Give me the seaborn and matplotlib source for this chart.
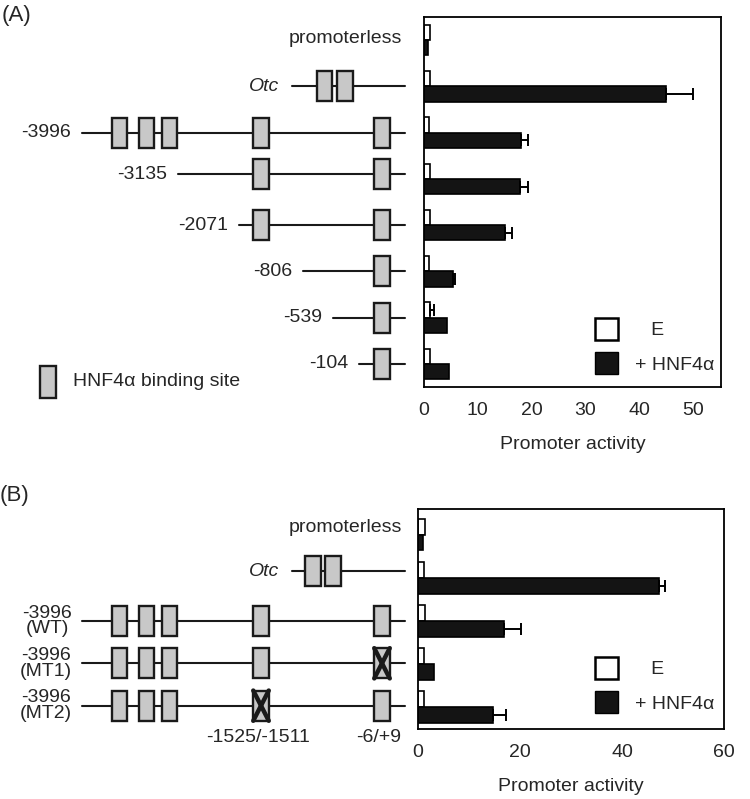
import numpy as np
import pandas as pd
import matplotlib
matplotlib.use("Agg")
import matplotlib.pyplot as plt
from matplotlib.patches import Rectangle, Patch
import seaborn as sns

# ---------------- data ----------------
constructs_A = ["promoterless", "Otc", "-3996", "-3135", "-2071", "-806", "-539", "-104"]
e_A = [1.2, 1.1, 1.0, 1.1, 1.1, 1.0, 1.1, 1.1]
e_err_A = [0, 0, 0, 0, 0, 0, 0.7, 0]
hnf_A = [0.8, 45.0, 18.1, 17.8, 15.0, 5.4, 4.2, 4.6]
hnf_err_A = [0, 5.0, 1.2, 1.5, 1.4, 0.3, 0, 0]

constructs_B = ["promoterless", "Otc", "-3996\n(WT)", "-3996\n(MT1)", "-3996\n(MT2)"]
e_B = [1.3, 1.2, 1.4, 1.2, 1.2]
e_err_B = [0, 0, 0, 0, 0]
hnf_B = [1.0, 47.2, 16.9, 3.2, 14.7]
hnf_err_B = [0, 1.3, 3.3, 0, 2.5]

conditions = ["E", "+ HNF4α"]
ticks_A = [0, 10, 20, 30, 40, 50]
ticks_B = [0, 20, 40, 60]

# schematic (not-to-scale positions along the construct)
line_end = 405
site_pos = [119.5, 146.5, 169.5, 261, 382]
otc_sites_A = [324.5, 345]
otc_sites_B = [313, 333]
otc_start = 292
starts_A = [82, 178, 239, 303, 333, 359]
row_shift_A = [0, -0.1, 0, 0, 0, 0]
mutated_B = [None, 382, 261]   # WT, MT1, MT2
mut_labels = ["-1525/-1511", "-6/+9"]

# ---------------- style ----------------
sns.set_theme(style="white")
plt.rcParams["font.family"] = ["Liberation Sans", "DejaVu Sans"]
FS = 14
palette = {"E": "white", "+ HNF4α": "#141414"}
DARK = "#1a1a1a"

fig = plt.figure(figsize=(7.5, 7.99), dpi=100)
W, H = 750, 799

def fig_rect(x0, y0, x1, y1):
    return [x0 / W, 1 - y1 / H, (x1 - x0) / W, (y1 - y0) / H]


def bar_panel(rect, constructs, e, e_err, hnf, hnf_err, xmax, ticks, ylim, width, leg_anchor):
    ax = fig.add_axes(rect)
    df = pd.DataFrame({
        "construct": list(constructs) * 2,
        "condition": [conditions[0]] * len(constructs) + [conditions[1]] * len(constructs),
        "activity": list(e) + list(hnf),
    })
    sns.barplot(data=df, y="construct", x="activity", hue="condition", orient="h",
                order=constructs, hue_order=conditions, palette=palette,
                edgecolor="black", linewidth=1.2, width=width, errorbar=None,
                legend=False, ax=ax)
    for cont, errs in zip(ax.containers, [e_err, hnf_err]):
        xs, ys, es = [], [], []
        for bar, er in zip(cont, errs):
            if er > 0:
                xs.append(bar.get_width())
                ys.append(bar.get_y() + bar.get_height() / 2)
                es.append(er)
        if xs:
            ax.errorbar(xs, ys, xerr=[np.zeros(len(es)), es], fmt="none",
                        ecolor="black", elinewidth=1.4, capsize=4.5, capthick=1.4)
    ax.set_xlim(0, xmax)
    ax.set_ylim(*ylim)
    ax.set_xticks(ticks)
    ax.set_xticklabels([str(t) for t in ticks])
    ax.set_yticks([])
    ax.set_ylabel("")
    ax.set_xlabel("Promoter activity", fontsize=FS, labelpad=12)
    ax.tick_params(axis="x", length=0, pad=11, labelsize=FS)
    for s in ax.spines.values():
        s.set_visible(True)
        s.set_color("black")
        s.set_linewidth(1.3)
    handles = [Patch(facecolor="white", edgecolor="black", linewidth=1.8),
               Patch(facecolor="#141414", edgecolor="black", linewidth=1.0)]
    ax.legend(handles, ["   " + conditions[0], conditions[1]], loc="lower left",
              bbox_to_anchor=leg_anchor, frameon=False, fontsize=FS,
              handlelength=1.2, handleheight=1.35, labelspacing=0.65,
              handletextpad=0.85, borderpad=0, borderaxespad=0)
    return ax


def site(ax, x, y, h, crossed=False):
    w = 15.5
    ax.add_patch(Rectangle((x - w / 2, y - h / 2), w, h, facecolor="#c8c8c8",
                           edgecolor=DARK, linewidth=1.7, zorder=3, clip_on=False))
    if crossed:
        ax.plot([x - w / 2, x + w / 2], [y - h / 2, y + h / 2], color=DARK, lw=3.2, zorder=4)
        ax.plot([x - w / 2, x + w / 2], [y + h / 2, y - h / 2], color=DARK, lw=3.2, zorder=4)


def line(ax, x0, y):
    ax.plot([x0, line_end], [y, y], color=DARK, lw=1.5, zorder=2)

# ---------------- panel A ----------------
ylimA = (7.5, -0.5)
rectA = fig_rect(424, 17, 721, 387)
axA = bar_panel(rectA, constructs_A, e_A, e_err_A, hnf_A, hnf_err_A, 55.2, ticks_A,
                ylimA, 0.66, (0.576, 0.035))

dA = fig.add_axes(fig_rect(0, 17, 420, 387))
dA.set_xlim(0, 420)
dA.set_ylim(*ylimA)
dA.axis("off")
hA = 0.65
dA.text(402, -0.04, constructs_A[0], ha="right", va="center", fontsize=FS)
line(dA, otc_start, 1)
for x in otc_sites_A:
    site(dA, x, 1, hA)
dA.text(otc_start - 13, 1, constructs_A[1], ha="right", va="center", fontsize=FS, style="italic")
for i, st in enumerate(starts_A):
    y = i + 2 + row_shift_A[i]
    line(dA, st, y)
    for x in site_pos:
        if x > st:
            site(dA, x, y, hA)
    dA.text(st - 11, y, constructs_A[i + 2], ha="right", va="center", fontsize=FS)
site(dA, 48, 7.39, 0.7)
dA.text(73, 7.39, "HNF4α binding site", ha="left", va="center", fontsize=FS)
fig.text(2 / W, 1 - 15 / H, "(A)", ha="left", va="center", fontsize=16)

# ---------------- panel B ----------------
ylimB = (4.5, -0.59)
rectB = fig_rect(418, 509, 724, 729)
axB = bar_panel(rectB, constructs_B, e_B, e_err_B, hnf_B, hnf_err_B, 60, ticks_B,
                ylimB, 0.74, (0.578, 0.072))

dB = fig.add_axes(fig_rect(0, 509, 414, 729))
dB.set_xlim(0, 414)
dB.set_ylim(*ylimB)
dB.axis("off")
hB = 0.7
dB.text(402, -0.16, constructs_B[0], ha="right", va="center", fontsize=FS)
line(dB, otc_start, 0.85)
for x in otc_sites_B:
    site(dB, x, 0.85, hB)
dB.text(otc_start - 13, 0.85, constructs_B[1], ha="right", va="center", fontsize=FS, style="italic")
for i, mut in enumerate(mutated_B):
    y = i + 2 - 0.02 * i
    line(dB, starts_A[0], y)
    for x in site_pos:
        site(dB, x, y, hB, crossed=(mut is not None and x == mut))
    dB.text(starts_A[0] - 10, y, constructs_B[i + 2], ha="right", va="center",
            multialignment="center", fontsize=FS, linespacing=0.88)
dB.text(site_pos[3] - 3, 4.7, mut_labels[0], ha="center", va="center", fontsize=FS)
dB.text(site_pos[4] - 3, 4.7, mut_labels[1], ha="center", va="center", fontsize=FS)
fig.text(0 / W, 1 - 495 / H, "(B)", ha="left", va="center", fontsize=16)

fig.savefig("out.png", dpi=100)
